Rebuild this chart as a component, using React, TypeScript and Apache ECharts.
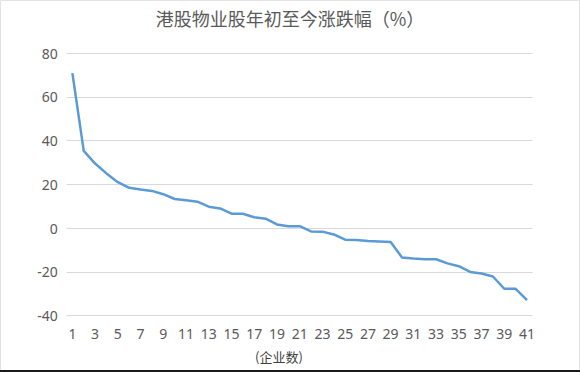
import React, { useEffect, useRef } from "react";
import * as echarts from "echarts";

const titleText = "港股物业股年初至今涨跌幅（%）";
const xAxisName = "(企业数)";
const categories: string[] = Array.from({ length: 41 }, (_, i) => String(i + 1));
const values: number[] = [
  70.8, 35.3, 29.5, 25.0, 21.0, 18.4, 17.6, 17.0, 15.5, 13.3,
  12.7, 12.1, 9.8, 9.0, 6.6, 6.6, 5.0, 4.3, 1.7, 0.9,
  0.9, -1.5, -1.6, -2.9, -5.3, -5.4, -5.9, -6.1, -6.3, -13.4,
  -13.9, -14.2, -14.2, -16.1, -17.4, -20.0, -20.7, -22.1, -27.7, -27.7,
  -32.9,
];
const yMin = -40;
const yMax = 80;
const yInterval = 20;

const FONT = "'Noto Sans CJK SC', 'Noto Sans', sans-serif";
const NUM_FONT = "'Noto Sans', 'Open Sans', sans-serif";
const TEXT_COLOR = "#595959";

export default function App() {
  const ref = useRef<HTMLDivElement>(null);
  useEffect(() => {
    if (!ref.current) return;
    const chart = echarts.init(ref.current, null, { renderer: "svg" });
    chart.setOption({
      animation: false,
      backgroundColor: "#ffffff",
      textStyle: { fontFamily: FONT },
      title: {
        text: titleText,
        left: 285,
        textAlign: "center",
        top: 4,
        textStyle: { fontSize: 18, fontWeight: "normal", color: TEXT_COLOR, fontFamily: FONT },
      },
      grid: { left: 66.7, right: 47.3, top: 53, bottom: 56.3, containLabel: false },
      xAxis: {
        type: "category",
        data: categories,
        boundaryGap: true,
        axisLine: { show: false },
        axisTick: { show: false },
        axisLabel: { interval: 1, color: TEXT_COLOR, fontSize: 14, margin: 11, fontFamily: NUM_FONT },
      },
      yAxis: {
        type: "value",
        min: yMin,
        max: yMax,
        interval: yInterval,
        axisLine: { show: false },
        axisTick: { show: false },
        axisLabel: { color: TEXT_COLOR, fontSize: 14, margin: 9, fontFamily: NUM_FONT },
        splitLine: { lineStyle: { color: "#d9d9d9", width: 1 } },
      },
      series: [
        {
          type: "line",
          data: values,
          showSymbol: false,
          symbol: "none",
          lineStyle: { color: "#5b9bd5", width: 2.5 },
        },
      ],
      graphic: [
        {
          type: "rect",
          shape: { x: 0.5, y: 0.5, width: 579, height: 371 },
          style: { fill: "none", stroke: "#e3e3e3", lineWidth: 1 },
          silent: true,
        },
        {
          type: "rect",
          shape: { x: 0, y: 370, width: 580, height: 2 },
          style: { fill: "#1a1a1a" },
          silent: true,
        },
        {
          type: "text",
          x: 279,
          y: 356,
          style: {
            text: xAxisName,
            fontSize: 13,
            fill: "#404040",
            fontFamily: FONT,
            align: "center",
            verticalAlign: "middle",
          },
          silent: true,
        },
      ],
    });
    return () => chart.dispose();
  }, []);
  return (
    <div
      ref={ref}
      style={{ position: "fixed", left: 0, top: 0, width: 580, height: 372 }}
    />
  );
}
